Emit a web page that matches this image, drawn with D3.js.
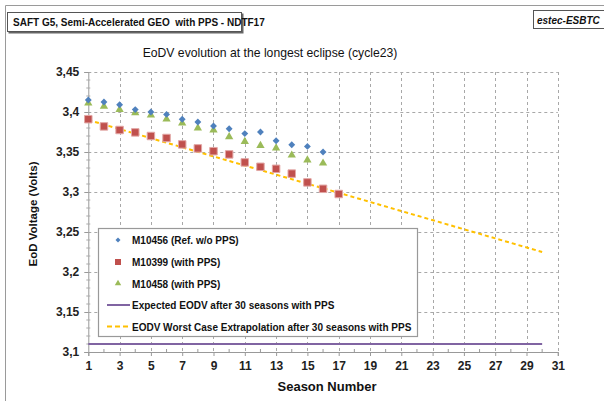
<!DOCTYPE html>
<html>
<head>
<meta charset="utf-8">
<script src="https://cdn.jsdelivr.net/npm/d3@7/dist/d3.min.js"></script>
<style>
  html, body { margin: 0; padding: 0; background: #fff; }
  svg { display: block; font-family: "Liberation Sans", Arial, sans-serif; }
</style>
</head>
<body>
<svg id="chart" width="604" height="401"></svg>
<script>
// Season numbers for each measured cell
const seasonsRef = [1, 2, 3, 4, 5, 6, 7, 8, 9, 10, 11, 12, 13, 14, 15, 16];
const seasonsM10399 = [1, 2, 3, 4, 5, 6, 7, 8, 9, 10, 11, 12, 13, 14, 15, 16, 17];
const seasonsM10458 = [1, 2, 3, 4, 5, 6, 7, 8, 9, 10, 11, 12, 13, 14, 15, 16];

// End-of-discharge voltage per season (V)
const eodvM10456 = [3.415, 3.4125, 3.409, 3.403, 3.400, 3.397, 3.391, 3.3875, 3.3825, 3.379, 3.373, 3.375, 3.364, 3.359, 3.357, 3.350];
const eodvM10399 = [3.391, 3.382, 3.3775, 3.3745, 3.370, 3.3675, 3.3595, 3.3545, 3.351, 3.347, 3.337, 3.3315, 3.329, 3.323, 3.312, 3.304, 3.2975];
const eodvM10458 = [3.411, 3.407, 3.403, 3.399, 3.396, 3.391, 3.386, 3.380, 3.3775, 3.369, 3.363, 3.358, 3.355, 3.346, 3.340, 3.336];

// Reference lines
const expectedSeasons = [1, 30];
const expectedEodv = [3.11, 3.11];
const worstCaseSeasons = [1, 30];
const worstCaseEodv = [3.39, 3.225];

// Axis ticks
const xTickValues = [1, 3, 5, 7, 9, 11, 13, 15, 17, 19, 21, 23, 25, 27, 29, 31];
const xMinorTicks = [2, 4, 6, 8, 10, 12, 14, 16, 18, 20, 22, 24, 26, 28, 30];
const yTickValues = [3.1, 3.15, 3.2, 3.25, 3.3, 3.35, 3.4, 3.45];
const yTickLabels = ["3,1", "3,15", "3,2", "3,25", "3,3", "3,35", "3,4", "3,45"];
const yMinorTicks = [3.11, 3.12, 3.13, 3.14, 3.16, 3.17, 3.18, 3.19, 3.21, 3.22, 3.23, 3.24,
  3.26, 3.27, 3.28, 3.29, 3.31, 3.32, 3.33, 3.34, 3.36, 3.37, 3.38, 3.39, 3.41, 3.42, 3.43, 3.44];

const legendLabels = [
  "M10456 (Ref. w/o PPS)",
  "M10399 (with PPS)",
  "M10458 (with PPS)",
  "Expected EODV after 30 seasons with PPS",
  "EODV Worst Case Extrapolation after 30 seasons with PPS"
];

const colors = { blue: "#4F81BD", red: "#C0504D", green: "#9BBB59", purple: "#8064A2", gold: "#FFC000" };

const svg = d3.select("#chart");

const x = d3.scaleLinear().domain([1, 31]).range([88.3, 557.8]);
const y = d3.scaleLinear().domain([3.1, 3.45]).range([352, 72]);

// Outer frame (only top and left edges fall inside the page)
svg.append("path")
  .attr("d", "M5.5,401 V5.5 H620")
  .attr("fill", "none").attr("stroke", "#9a9a9a").attr("stroke-width", 1);

// Header label box
svg.append("rect").attr("x", 8.5).attr("y", 13.5).attr("width", 235).attr("height", 20)
  .attr("fill", "#666");
svg.append("rect").attr("x", 7.5).attr("y", 12.5).attr("width", 234).attr("height", 19)
  .attr("fill", "#fff").attr("stroke", "#555").attr("stroke-width", 1);
svg.append("text").attr("x", 13).attr("y", 26)
  .attr("font-size", 10).attr("font-weight", "bold").attr("fill", "#111")
  .text("SAFT G5, Semi-Accelerated GEO  with PPS - NDTF17")
  .style("white-space", "pre");

// Lab tag box
svg.append("rect").attr("x", 533.5).attr("y", 10.5).attr("width", 80).attr("height", 18)
  .attr("fill", "#fff").attr("stroke", "#555").attr("stroke-width", 1);
svg.append("text").attr("x", 537).attr("y", 23.5)
  .attr("font-size", 10).attr("font-weight", "bold").attr("font-style", "italic").attr("fill", "#111")
  .text("estec-ESBTC");

// Chart title
svg.append("text").attr("x", 270).attr("y", 57)
  .attr("text-anchor", "middle").attr("font-size", 12.2).attr("fill", "#111")
  .text("EoDV evolution at the longest eclipse (cycle23)");

// Gridlines
const grid = svg.append("g").attr("stroke", "#a8a8a8").attr("stroke-width", 1).attr("stroke-dasharray", "3,3");
grid.selectAll("line.v").data(xTickValues.slice(1)).join("line").attr("class", "v")
  .attr("x1", d => Math.round(x(d)) + 0.5).attr("x2", d => Math.round(x(d)) + 0.5)
  .attr("y1", y(3.45)).attr("y2", y(3.1));
grid.selectAll("line.h").data(yTickValues.slice(1)).join("line").attr("class", "h")
  .attr("x1", x(1)).attr("x2", x(31))
  .attr("y1", d => Math.round(y(d)) + 0.5).attr("y2", d => Math.round(y(d)) + 0.5);

// Axes
const xAxis = d3.axisBottom(x).tickValues(xTickValues).tickSize(4).tickPadding(5).tickFormat(d3.format("d"));
const yAxis = d3.axisLeft(y).tickValues(yTickValues).tickSize(4).tickPadding(5)
  .tickFormat((d, i) => yTickLabels[i]);

const gx = svg.append("g").attr("transform", `translate(0,${y(3.1)})`).call(xAxis);
const gy = svg.append("g").attr("transform", `translate(${x(1)},0)`).call(yAxis);
[gx, gy].forEach(g => {
  g.select(".domain").attr("stroke", "#999");
  g.selectAll(".tick line").attr("stroke", "#999");
  g.selectAll(".tick text").attr("font-size", 12).attr("font-weight", "bold").attr("fill", "#222")
    .attr("font-family", "Liberation Sans, Arial, sans-serif");
});

// Minor ticks
svg.append("g").selectAll("line").data(xMinorTicks).join("line")
  .attr("x1", d => x(d)).attr("x2", d => x(d))
  .attr("y1", y(3.1) - 3).attr("y2", y(3.1))
  .attr("stroke", "#999");
svg.append("g").selectAll("line").data(yMinorTicks).join("line")
  .attr("x1", x(1) - 2).attr("x2", x(1) + 2)
  .attr("y1", d => y(d)).attr("y2", d => y(d))
  .attr("stroke", "#aaa");

// Axis titles
svg.append("text").attr("x", 327).attr("y", 391)
  .attr("text-anchor", "middle").attr("font-size", 13).attr("font-weight", "bold").attr("fill", "#111")
  .text("Season Number");
svg.append("text").attr("transform", `translate(37,${(y(3.1) + y(3.45)) / 2 + 2}) rotate(-90)`)
  .attr("text-anchor", "middle").attr("font-size", 11.5).attr("font-weight", "bold").attr("fill", "#111")
  .text("EoD Voltage (Volts)");

// Reference lines
const line = d3.line().x(d => x(d[0])).y(d => y(d[1]));
svg.append("path")
  .datum(expectedSeasons.map((s, i) => [s, expectedEodv[i]]))
  .attr("d", line).attr("fill", "none").attr("stroke", colors.purple).attr("stroke-width", 2);
svg.append("path")
  .datum(worstCaseSeasons.map((s, i) => [s, worstCaseEodv[i]]))
  .attr("d", line).attr("fill", "none").attr("stroke", colors.gold).attr("stroke-width", 2)
  .attr("stroke-dasharray", "4,3");

// Marker shapes
const diamond = d3.symbol().type(d3.symbolDiamond2).size(30);
const square = d3.symbol().type(d3.symbolSquare).size(56);
const triangle = d3.symbol().type(d3.symbolTriangle).size(30);

svg.append("g").selectAll("path").data(seasonsM10399.map((s, i) => [s, eodvM10399[i]])).join("path")
  .attr("transform", d => `translate(${x(d[0])},${y(d[1])})`)
  .attr("d", square).attr("fill", colors.red).attr("stroke", "#e2a7a5").attr("stroke-width", 1);
svg.append("g").selectAll("path").data(seasonsM10458.map((s, i) => [s, eodvM10458[i]])).join("path")
  .attr("transform", d => `translate(${x(d[0])},${y(d[1])})`)
  .attr("d", triangle).attr("fill", colors.green);
svg.append("g").selectAll("path").data(seasonsRef.map((s, i) => [s, eodvM10456[i]])).join("path")
  .attr("transform", d => `translate(${x(d[0])},${y(d[1])})`)
  .attr("d", diamond).attr("fill", colors.blue);

// Legend
const lg = svg.append("g");
lg.append("rect").attr("x", 98.5).attr("y", 228.5).attr("width", 319).attr("height", 108)
  .attr("fill", "#fff").attr("stroke", "#999").attr("stroke-width", 1.2);
const rowY = [240, 262, 283.5, 305, 326.5];
lg.append("path").attr("transform", `translate(118,${rowY[0]})`)
  .attr("d", d3.symbol().type(d3.symbolDiamond2).size(16)).attr("fill", colors.blue);
lg.append("path").attr("transform", `translate(118,${rowY[1]})`)
  .attr("d", d3.symbol().type(d3.symbolSquare).size(36)).attr("fill", colors.red);
lg.append("path").attr("transform", `translate(118,${rowY[2]})`)
  .attr("d", d3.symbol().type(d3.symbolTriangle).size(18)).attr("fill", colors.green);
lg.append("line").attr("x1", 107).attr("x2", 130).attr("y1", rowY[3]).attr("y2", rowY[3])
  .attr("stroke", colors.purple).attr("stroke-width", 2);
lg.append("line").attr("x1", 107).attr("x2", 130).attr("y1", rowY[4]).attr("y2", rowY[4])
  .attr("stroke", colors.gold).attr("stroke-width", 2).attr("stroke-dasharray", "5,3");
lg.selectAll("text").data(legendLabels).join("text")
  .attr("x", 132).attr("y", (d, i) => rowY[i] + 4)
  .attr("font-size", 10).attr("font-weight", "bold").attr("fill", "#111")
  .text(d => d);
</script>
</body>
</html>
